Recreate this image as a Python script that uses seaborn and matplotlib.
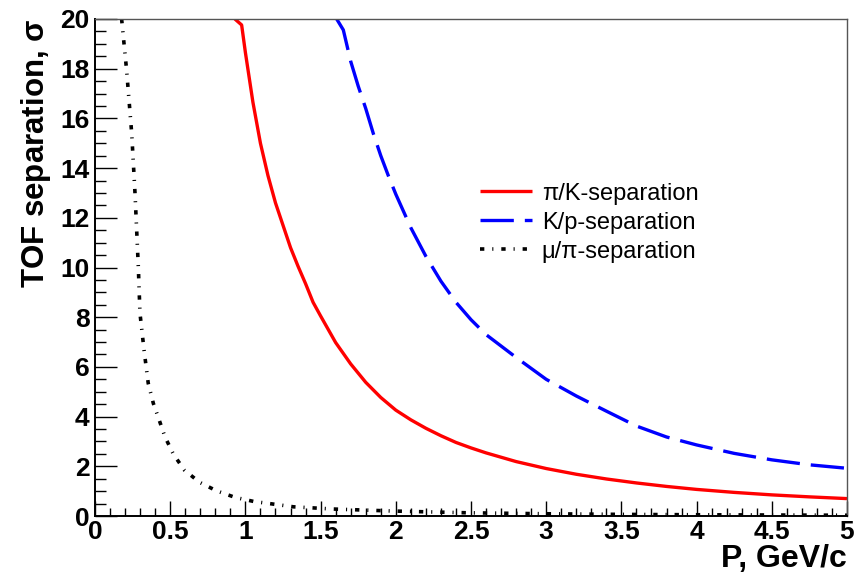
import matplotlib
matplotlib.use("Agg")
import matplotlib.pyplot as plt
from matplotlib.ticker import MultipleLocator
import seaborn as sns
import pandas as pd

# pi/K separation (red, solid)
pk_p = [0.93, 0.975, 1.0, 1.05, 1.1, 1.15, 1.2, 1.25, 1.3, 1.35, 1.4, 1.45, 1.5,
        1.6, 1.7, 1.8, 1.9, 2.0, 2.1, 2.2, 2.3, 2.4, 2.5, 2.6, 2.8, 3.0, 3.2,
        3.4, 3.6, 3.8, 4.0, 4.25, 4.5, 4.75, 5.0]
pk_s = [20.0, 19.76, 18.65, 16.65, 15.0, 13.7, 12.6, 11.7, 10.8, 10.05, 9.35, 8.6, 8.05,
        6.98, 6.12, 5.38, 4.77, 4.26, 3.87, 3.53, 3.23, 2.96, 2.74, 2.54, 2.19, 1.91, 1.68,
        1.49, 1.33, 1.19, 1.07, 0.95, 0.85, 0.77, 0.70]

# K/p separation (blue, dashed)
kp_p = [1.607, 1.651, 1.7, 1.75, 1.8, 1.85, 1.9, 1.95, 2.0, 2.1, 2.2, 2.3, 2.4,
        2.5, 2.6, 2.8, 3.0, 3.2, 3.4, 3.6, 3.8, 4.0, 4.25, 4.5, 4.75, 5.0]
kp_s = [20.0, 19.56, 18.3, 17.3, 16.4, 15.4, 14.5, 13.7, 12.95, 11.6, 10.45, 9.45, 8.6,
        7.9, 7.3, 6.38, 5.5, 4.83, 4.22, 3.62, 3.18, 2.86, 2.52, 2.26, 2.06, 1.92]

# mu/pi separation (black, dash-dot-dot)
mp_p = [0.177, 0.21, 0.244, 0.266, 0.288, 0.299, 0.326, 0.354, 0.388, 0.428, 0.465,
        0.521, 0.594, 0.694, 0.809, 0.931, 1.059, 1.197, 1.319, 1.585, 1.98, 2.47,
        3.0, 3.5, 4.0, 4.5, 5.0]
mp_s = [20.0, 17.95, 15.40, 12.99, 10.03, 8.16, 6.68, 5.34, 4.53, 3.84, 3.19,
        2.49, 1.85, 1.36, 1.01, 0.75, 0.58, 0.47, 0.37, 0.28, 0.20, 0.13,
        0.09, 0.065, 0.05, 0.04, 0.03]

labels = ["\u03c0/K-separation", "K/p-separation", "\u03bc/\u03c0-separation"]
x_ticks = [0, 0.5, 1, 1.5, 2, 2.5, 3, 3.5, 4, 4.5, 5]
x_tick_labels = ["0", "0.5", "1", "1.5", "2", "2.5", "3", "3.5", "4", "4.5", "5"]
y_ticks = [0, 2, 4, 6, 8, 10, 12, 14, 16, 18, 20]

sns.set_theme(style="white")
plt.rcParams['font.family'] = ['Liberation Sans', 'DejaVu Sans']

fig = plt.figure(figsize=(8.56, 5.73), dpi=100)
ax = fig.add_axes([95 / 856, 57 / 573, (847 - 95) / 856, (516 - 19) / 573])

df_pk = pd.DataFrame({"P": pk_p, "S": pk_s})
df_kp = pd.DataFrame({"P": kp_p, "S": kp_s})
df_mp = pd.DataFrame({"P": mp_p, "S": mp_s})

sns.lineplot(data=df_pk, x="P", y="S", ax=ax, color="#ff0000", linewidth=2.4,
             sort=False, label=labels[0], solid_capstyle="butt")
sns.lineplot(data=df_kp, x="P", y="S", ax=ax, color="#0000ff", linewidth=2.4,
             sort=False, label=labels[1], linestyle=(0, (10.0, 3.3)),
             dash_capstyle="butt")
sns.lineplot(data=df_mp, x="P", y="S", ax=ax, color="black", linewidth=2.6,
             sort=False, label=labels[2],
             linestyle=(0, (1.2, 2.2, 0.3, 2.2)), dash_capstyle="butt")

ax.set_xlim(0, 5)
ax.set_ylim(0, 20)
ax.set_xticks(x_ticks)
ax.set_xticklabels(x_tick_labels)
ax.set_yticks(y_ticks)
ax.xaxis.set_minor_locator(MultipleLocator(0.1))
ax.yaxis.set_minor_locator(MultipleLocator(0.5))

ax.tick_params(axis="x", which="major", direction="in", length=11, width=1,
               color="black", pad=3, bottom=True, top=False)
ax.tick_params(axis="x", which="minor", direction="in", length=5.5, width=1,
               color="black", bottom=True, top=False)
ax.tick_params(axis="y", which="major", direction="in", length=16, width=1,
               color="black", pad=4, left=True, right=False)
ax.tick_params(axis="y", which="minor", direction="in", length=8, width=1,
               color="black", left=True, right=False)
for lab in ax.get_xticklabels() + ax.get_yticklabels():
    lab.set_fontsize(19)
    lab.set_fontweight("bold")
    lab.set_color("black")

for side in ["left", "bottom"]:
    ax.spines[side].set_color("black")
    ax.spines[side].set_linewidth(1.4)
for side in ["top", "right"]:
    ax.spines[side].set_color("#555555")
    ax.spines[side].set_linewidth(1.0)

ax.set_xlabel("P, GeV/c", fontsize=23, fontweight="bold", color="black",
              loc="right", labelpad=0)
ax.set_ylabel("TOF separation, $\\mathregular{\\sigma}$", fontsize=22.5,
              fontweight="bold", color="black", loc="top", labelpad=5)

leg = ax.legend(loc="upper left", bbox_to_anchor=(0.5, 0.69), frameon=False,
                fontsize=17, handlelength=2.2, handletextpad=0.4,
                labelspacing=0.3, borderaxespad=0)
for t in leg.get_texts():
    t.set_color("black")

ax.set_facecolor("white")
fig.patch.set_facecolor("white")
fig.savefig("out.png", dpi=100)
